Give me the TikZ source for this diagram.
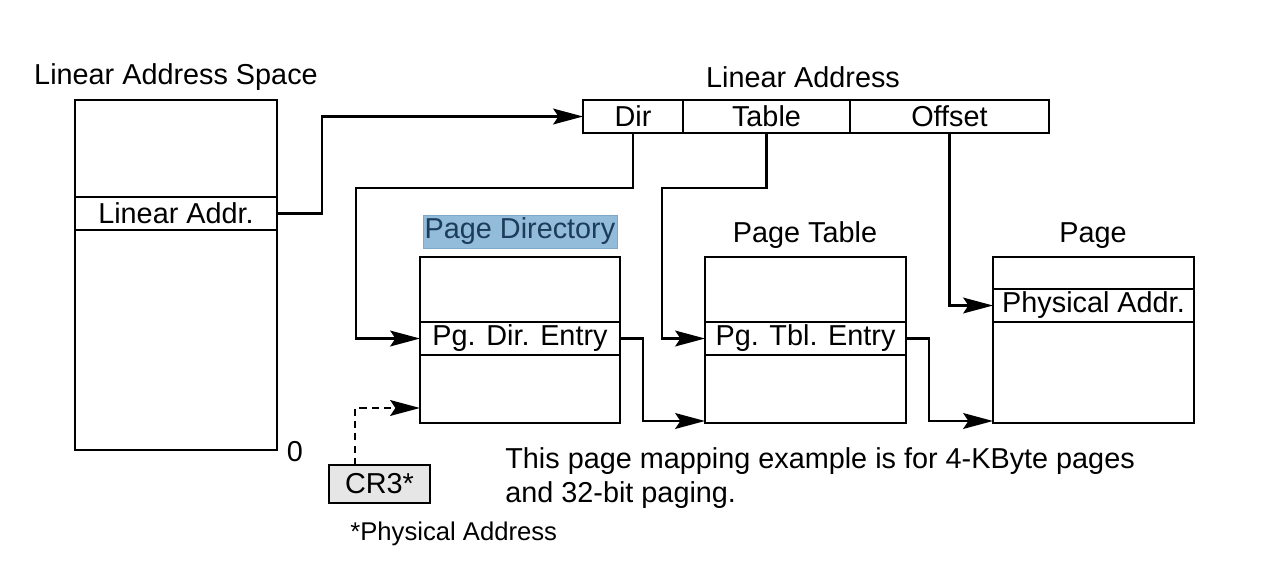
\documentclass[tikz,border=0pt]{standalone}
\usepackage{fontspec}
\setmainfont{Liberation Sans}
\usetikzlibrary{arrows.meta,positioning,calc}

\definecolor{hlfill}{RGB}{147,187,218}
\definecolor{hldraw}{RGB}{127,168,200}
\definecolor{hltext}{RGB}{27,61,90}
\definecolor{crfill}{RGB}{230,230,230}

\tikzset{
  lbl/.style={font=\fontsize{16.4}{19.3}\selectfont, inner sep=0pt},
  membox/.style={draw, line width=1.2pt, inner sep=0pt, outer sep=0pt, minimum width=#1},
  entry/.style={draw, line width=1.2pt, inner sep=0pt, outer sep=0pt, minimum width=#1,
    minimum height=0.66cm, font=\fontsize{16.4}{19.3}\selectfont},
  link/.style={line width=1.2pt, -{Stealth[length=17pt,width=9pt,inset=3pt]}},
}

\begin{document}
\begin{tikzpicture}[x=0.02cm, y=-0.02cm]
  \useasboundingbox (0,0) rectangle (1274,562);

  % Linear address space
  \node[membox=4.04cm, minimum height=7cm] (las) at (176,275) {};
  \node[entry=4.04cm] (laddr) at (176,213.5) {Linear Addr.};
  \node[lbl, anchor=base] (lastitle) at (176,84) {Linear Address Space};
  \node[lbl] (zero) at (295,452) {0};

  % Linear address fields
  \node[entry=2cm] (dir) at (633,116.5) {Dir};
  \node[entry=3.34cm, right=0pt of dir] (table) {Table};
  \node[entry=3.98cm, right=0pt of table] (offset) {Offset};
  \node[lbl, anchor=base] (latitle) at (803,87) {Linear Address};

  % Page directory
  \node[membox=4cm, minimum height=3.32cm] (pd) at (520,340) {};
  \node[entry=4cm] (pde) at (520,338.5) {Pg. Dir. Entry};
  \node[lbl, fill=hlfill, draw=hldraw, text=hltext, minimum width=3.88cm,
    minimum height=0.66cm] (pdtitle) at (520,231.5) {Page Directory};

  % Page table
  \node[membox=4.02cm, minimum height=3.32cm] (pt) at (805.5,340) {};
  \node[entry=4.02cm] (pte) at (805.5,338.5) {Pg. Tbl. Entry};
  \node[lbl, anchor=base] (pttitle) at (805,242) {Page Table};

  % Page
  \node[membox=4.02cm, minimum height=3.32cm] (pg) at (1093.5,340) {};
  \node[entry=4.02cm] (phys) at (1093.5,305.5) {Physical Addr.};
  \node[lbl, anchor=base] (pgtitle) at (1093,242) {Page};

  % CR3 and notes
  \node[entry=2.02cm, minimum height=0.76cm, fill=crfill] (cr3) at (379.5,484) {CR3*};
  \node[lbl, anchor=north west, align=left] (note) at (505,447)
    {This page mapping example is for 4-KByte pages\\and 32-bit paging.};
  \node[lbl, font=\fontsize{14.6}{17}\selectfont, anchor=base west] (physnote) at (350,540) {*Physical Address};

  % Connectors
  \coordinate (dirturn) at (356,188);
  \coordinate (tblturn) at (662,188);
  \draw[link] (laddr.east) -- ++(45,0) |- (dir.west);
  \draw[link] (dir.south) |- (dirturn) |- (pde.west);
  \draw[link] (table.south) |- (tblturn) |- (pte.west);
  \draw[link] (offset.south) |- (phys.west);
  \draw[link] (pde.east) -- ++(23,0) |- ($(pt.south west)+(0,-2)$);
  \draw[link] (pte.east) -- ++(23,0) |- ($(pg.south west)+(0,-2)$);
  \draw[link, dash pattern=on 4pt off 3pt] ($(cr3.north west)+(26,0)$) |- ($(pd.south west)+(0,-15)$);
\end{tikzpicture}
\end{document}
